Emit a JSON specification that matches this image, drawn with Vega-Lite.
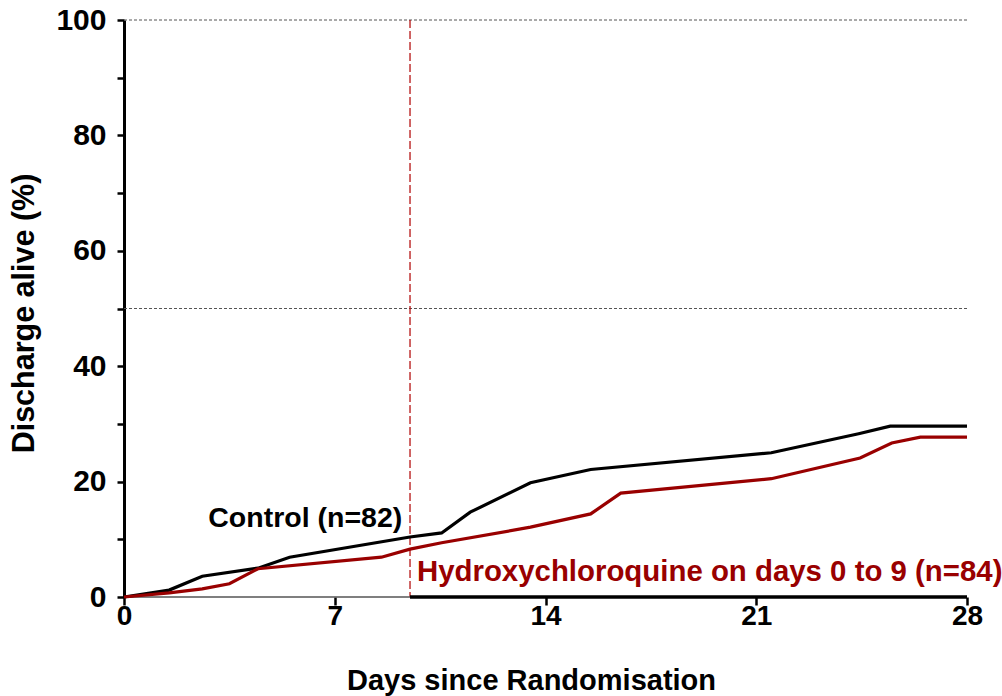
{
  "$schema": "https://vega.github.io/schema/vega-lite/v6.json",
  "width": 843,
  "height": 577,
  "autosize": "none",
  "padding": {"left": 124, "top": 20, "right": 35, "bottom": 99},
  "background": "white",
  "config": {
    "view": {"stroke": null},
    "font": "Liberation Sans",
    "text": {"font": "Liberation Sans"}
  },
  "datasets": {
    "curves": [
      {"series": "Control", "day": 0, "pct": 0},
      {"series": "Control", "day": 1.5, "pct": 1.2},
      {"series": "Control", "day": 2.6, "pct": 3.6},
      {"series": "Control", "day": 4.45, "pct": 5.0},
      {"series": "Control", "day": 5.5, "pct": 6.9},
      {"series": "Control", "day": 9.5, "pct": 10.4},
      {"series": "Control", "day": 10.55, "pct": 11.1},
      {"series": "Control", "day": 11.5, "pct": 14.7},
      {"series": "Control", "day": 13.5, "pct": 19.8},
      {"series": "Control", "day": 15.5, "pct": 22.1},
      {"series": "Control", "day": 21.5, "pct": 25.0},
      {"series": "Control", "day": 24.4, "pct": 28.3},
      {"series": "Control", "day": 25.45, "pct": 29.6},
      {"series": "Control", "day": 28, "pct": 29.6},
      {"series": "HCQ", "day": 0, "pct": 0},
      {"series": "HCQ", "day": 1.5, "pct": 0.7},
      {"series": "HCQ", "day": 2.6, "pct": 1.4},
      {"series": "HCQ", "day": 3.5, "pct": 2.3},
      {"series": "HCQ", "day": 4.45, "pct": 4.9},
      {"series": "HCQ", "day": 8.55, "pct": 6.9},
      {"series": "HCQ", "day": 9.5, "pct": 8.3},
      {"series": "HCQ", "day": 10.55, "pct": 9.4},
      {"series": "HCQ", "day": 13.5, "pct": 12.1},
      {"series": "HCQ", "day": 15.5, "pct": 14.4},
      {"series": "HCQ", "day": 16.5, "pct": 18.0},
      {"series": "HCQ", "day": 21.5, "pct": 20.5},
      {"series": "HCQ", "day": 24.45, "pct": 24.1},
      {"series": "HCQ", "day": 25.5, "pct": 26.7},
      {"series": "HCQ", "day": 26.45, "pct": 27.7},
      {"series": "HCQ", "day": 28, "pct": 27.7}
    ]
  },
  "layer": [
    {
      "data": {"values": [{"pct": 50}, {"pct": 100}]},
      "mark": {"type": "rule", "color": "#555555", "strokeWidth": 1, "strokeDash": [3, 2]},
      "encoding": {
        "y": {"field": "pct", "type": "quantitative", "scale": {"domain": [0, 100]}}
      }
    },
    {
      "data": {"values": [{"day": 9.5}]},
      "mark": {"type": "rule", "color": "#b00000", "strokeWidth": 1.2, "strokeDash": [8, 3]},
      "encoding": {
        "x": {"field": "day", "type": "quantitative", "scale": {"domain": [0, 28]}}
      }
    },
    {
      "data": {"values": [{"day": 0, "day2": 9.5, "pct": 0}]},
      "mark": {"type": "rule", "color": "#555555", "strokeWidth": 1.5},
      "encoding": {
        "x": {"field": "day", "type": "quantitative"},
        "x2": {"field": "day2"},
        "y": {"field": "pct", "type": "quantitative"}
      }
    },
    {
      "data": {"values": [{"day": 9.5, "day2": 28, "pct": 0}]},
      "mark": {"type": "rule", "color": "black", "strokeWidth": 3.5},
      "encoding": {
        "x": {"field": "day", "type": "quantitative"},
        "x2": {"field": "day2"},
        "y": {"field": "pct", "type": "quantitative"}
      }
    },
    {
      "data": {"name": "curves"},
      "mark": {"type": "line", "strokeWidth": 3.2, "strokeJoin": "miter", "clip": false},
      "encoding": {
        "x": {
          "field": "day",
          "type": "quantitative",
          "scale": {"domain": [0, 28], "nice": false, "zero": false},
          "axis": {
            "values": [0, 7, 14, 21, 28],
            "title": "Days since Randomisation",
            "titleFont": "Liberation Sans",
            "titleFontSize": 29,
            "titleFontWeight": "bold",
            "titleColor": "black",
            "titleX": 407,
            "titleY": 83,
            "titleBaseline": "middle",
            "domain": false,
            "grid": false,
            "ticks": true,
            "tickSize": 8,
            "tickWidth": 2.5,
            "tickColor": "black",
            "labelFont": "Liberation Sans",
            "labelFontSize": 28,
            "labelFontWeight": "bold",
            "labelColor": "black",
            "labelPadding": -3,
            "labelFlush": false
          }
        },
        "y": {
          "field": "pct",
          "type": "quantitative",
          "scale": {"domain": [0, 100], "nice": false},
          "axis": {
            "values": [0, 10, 20, 30, 40, 50, 60, 70, 80, 90, 100],
            "labelExpr": "datum.value % 20 == 0 ? datum.label : ''",
            "title": "Discharge alive (%)",
            "titleFont": "Liberation Sans",
            "titleFontSize": 30.5,
            "titleFontWeight": "bold",
            "titleColor": "black",
            "titleX": -100,
            "titleY": 293,
            "titleAngle": -90,
            "titleBaseline": "middle",
            "titleAlign": "center",
            "domain": true,
            "domainColor": "black",
            "domainWidth": 3,
            "grid": false,
            "tickSize": 7,
            "tickWidth": 2.5,
            "tickColor": "black",
            "labelFont": "Liberation Sans",
            "labelFontSize": 30,
            "labelFontWeight": "bold",
            "labelColor": "black",
            "labelPadding": 11,
            "labelFlush": false
          }
        },
        "color": {
          "field": "series",
          "type": "nominal",
          "scale": {"domain": ["Control", "HCQ"], "range": ["black", "#990000"]},
          "legend": null
        },
        "detail": {"field": "series"}
      }
    },
    {
      "data": {"values": [{"day": 6.02, "pct": 13.7, "label": "Control (n=82)"}]},
      "mark": {"type": "text", "font": "Liberation Sans", "fontSize": 28.5, "fontWeight": "bold", "color": "black", "align": "center", "baseline": "middle"},
      "encoding": {
        "x": {"field": "day", "type": "quantitative"},
        "y": {"field": "pct", "type": "quantitative"},
        "text": {"field": "label"}
      }
    },
    {
      "data": {"values": [{"day": 9.73, "pct": 4.3, "label": "Hydroxychloroquine on days 0 to 9 (n=84)"}]},
      "mark": {"type": "text", "font": "Liberation Sans", "fontSize": 29.4, "fontWeight": "bold", "color": "#990000", "align": "left", "baseline": "middle"},
      "encoding": {
        "x": {"field": "day", "type": "quantitative"},
        "y": {"field": "pct", "type": "quantitative"},
        "text": {"field": "label"}
      }
    }
  ]
}
